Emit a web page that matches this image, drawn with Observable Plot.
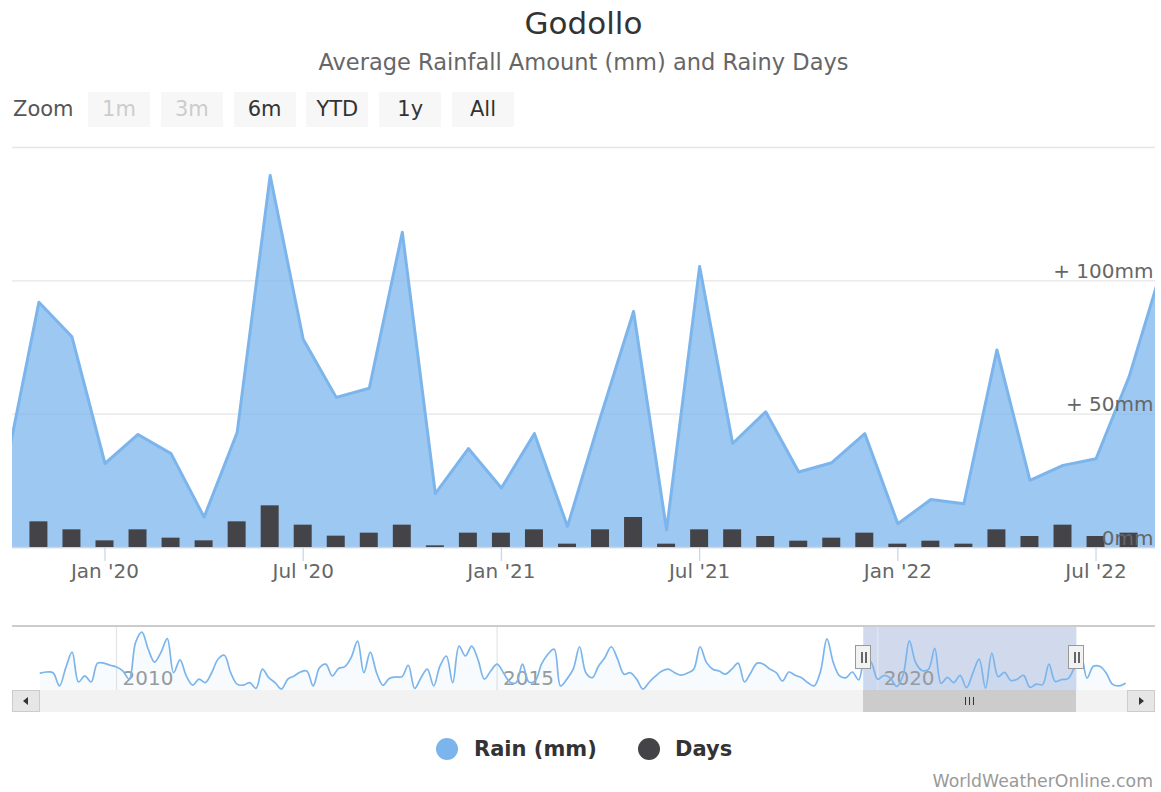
<!DOCTYPE html>
<html><head><meta charset="utf-8">
<script src="https://cdn.jsdelivr.net/npm/d3@7"></script>
<script src="https://cdn.jsdelivr.net/npm/@observablehq/plot@0.6"></script>
<style>
body{margin:0;background:#fff;font-family:"DejaVu Sans",sans-serif;}
#wrap{position:relative;width:1161px;height:792px;overflow:hidden;background:#fff;}
.abs{position:absolute;}
.btn{position:absolute;top:92px;height:35px;width:62px;background:#f7f7f7;font-size:21px;line-height:35px;text-align:center;color:#333;}
.btn.off{color:#cccccc;}
.ov{position:absolute;left:0;}
</style></head><body><div id="wrap"></div>
<script>
// ---------- data ----------
const seriesStartYear = 2009;           // first month of the series: Jan 2009
const monthNames = ["Jan","Feb","Mar","Apr","May","Jun","Jul","Aug","Sep","Oct","Nov","Dec"];
const rainMm = [
  49, 52, 50, 13, 64, 108, 24, 41, 24, 77, 77, 71,          // 2009
  66, 55, 32, 135, 164, 116, 80, 107, 146, 50, 86, 41,      // 2010
  15, 32, 22, 50, 88, 99, 50, 18, 15, 22, 6, 60,            // 2011
  36, 22, 4, 32, 41, 52, 55, 13, 64, 74, 41, 62,            // 2012
  67, 93, 139, 50, 108, 50, 15, 34, 38, 39, 71, 6,          // 2013
  36, 60, 13, 69, 97, 22, 125, 97, 125, 86, 32, 55,         // 2014
  74, 50, 24, 22, 74, 24, 27, 74, 102, 116, 13, 32,         // 2015
  60, 123, 50, 36, 69, 93, 123, 88, 46, 50, 32, 4,          // 2016
  24, 41, 55, 60, 50, 43, 49, 60, 123, 79, 60, 55,          // 2017
  46, 60, 77, 24, 50, 77, 74, 60, 50, 27, 52, 43,           // 2018
  36, 22, 13, 55, 145, 79, 41, 36, 52, 30, 92, 79,          // 2019
  31.5, 42.4, 35.2, 11.4, 43.1, 139.5, 78.1, 56.3, 59.7, 118.2, 20.2, 37.1, // 2020
  22.3, 42.7, 7.9, 49, 88.5, 6.6, 105.4, 39, 50.9, 28.3, 31.8, 42.7,        // 2021
  8.9, 18, 16.4, 74.1, 25.2, 30.8, 33.3, 64, 105, 35, 68, 68,              // 2022
  50, 18, 13, 20                                                            // 2023
];
const daysStartMonth = "2019-11";
const rainyDays = [15.4, 10.6, 4, 10.6, 5.6, 4, 15.4, 25, 13.4, 6.8, 8.6, 13.4,
  1, 8.6, 8.6, 10.6, 2, 10.6, 18, 2, 10.6, 10.6, 6.6, 3.8, 5.6, 8.6,
  2, 3.8, 2, 10.6, 6.6, 13.4, 6.6, 8.6];
const xTickMonths = ["2020-01","2020-07","2021-01","2021-07","2022-01","2022-07"];
const yTickValues = [0, 50, 100];
const yTickLabels = ["0mm", "+ 50mm", "+ 100mm"];
const yGridValues = [0, 50, 100, 150];
const navYears = [2010, 2015, 2020];
const zoomButtons = ["1m","3m","6m","YTD","1y","All"];
const zoomDisabled = ["1m","3m"];
const legendNames = ["Rain (mm)", "Days"];
const legendColors = ["#7cb5ec", "#434348"];
const titleText = "Godollo";
const subtitleText = "Average Rainfall Amount (mm) and Rainy Days";
const creditText = "WorldWeatherOnline.com";

// ---------- helpers ----------
function monthIndex(s){ const [y,m] = s.split("-").map(Number); return (y - seriesStartYear)*12 + (m-1); }
const fmtMonth = m => monthNames[m % 12] + " '" + String(seriesStartYear + Math.floor(m/12)).slice(2);
const rainData = rainMm.map((v,i) => ({m:i, v}));
const d0 = monthIndex(daysStartMonth);
const daysData = rainyDays.map((v,i) => ({m:d0+i, v}));
const xTicks = xTickMonths.map(monthIndex);

// ---------- layout ----------
const W = 1161;
const mainView = [129.2, 163.8];     // visible range of the main chart (month index)
const navWindow = [129.8, 163.4];    // selected window drawn in the navigator
const navDomain = [-4.4, 175.8];
const barHalf = 0.272;
const wrap = document.getElementById("wrap");
function add(html, css){ const d = document.createElement("div"); d.className="abs"; d.style.cssText = css; d.innerHTML = html; wrap.appendChild(d); return d; }

add(titleText, "left:3px;width:1161px;top:4px;text-align:center;font-size:31px;line-height:38px;color:#333;");
add(subtitleText, "left:3px;width:1161px;top:48px;text-align:center;font-size:22.5px;line-height:28px;color:#666;");
add("Zoom", "left:13px;top:92px;font-size:21px;line-height:35px;color:#555;");
zoomButtons.forEach((b,i) => {
  const d = document.createElement("div");
  d.className = "btn" + (zoomDisabled.includes(b) ? " off" : "");
  d.style.left = (88 + i*72.8) + "px";
  d.textContent = b; wrap.appendChild(d);
});

const baseStyle = {background:"transparent", fontFamily:"DejaVu Sans", overflow:"visible"};
const common = {width: W, height: 460, marginLeft: 12, marginRight: 6, marginTop: 10, marginBottom: 50,
  style: baseStyle};
const mainVisible = rainData.filter(d => d.m >= mainView[0]-1 && d.m <= mainView[1]+1);

const plotA = Plot.plot({...common,
  x: {type: "linear", domain: mainView, axis: null}, y: {type: "linear", domain: [0,150], axis: null},
  marks: [
    Plot.ruleY(yGridValues, {stroke:"#e6e6e6", strokeWidth:1.3}),
    Plot.areaY(mainVisible, {x:"m", y:"v", fill:"#7cb5ec", fillOpacity:0.75, clip:true}),
    Plot.lineY(mainVisible, {x:"m", y:"v", stroke:"#7cb5ec", strokeWidth:3, strokeLinejoin:"round", clip:true}),
    Plot.ruleY([0], {stroke:"#ccd6eb", strokeWidth:1.3}),
    Plot.ruleX(xTicks, {x: d=>d, y1: 0, y2: 0, insetBottom: -14, stroke:"#ccd6eb", strokeWidth:1.3}),
    Plot.text(xTicks, {x: d=>d, text: fmtMonth, frameAnchor:"bottom", lineAnchor:"top", dy: 16, fill:"#666", fontSize:20})
  ]});
const plotB = Plot.plot({...common,
  x: {type: "linear", domain: mainView, axis: null}, y: {type: "linear", domain: [0,240], axis: null},
  marks: [
    Plot.rectY(daysData, {x1: d => d.m - barHalf, x2: d => d.m + barHalf, y: "v", fill:"#434348", clip:true})
  ]});
const plotC = Plot.plot({...common,
  x: {type: "linear", domain: mainView, axis: null}, y: {type: "linear", domain: [0,150], axis: null},
  marks: [
    Plot.text(yTickValues, {y: d=>d, text: (d,i) => yTickLabels[i], frameAnchor:"right", textAnchor:"end", lineAnchor:"bottom", dx:-2, dy:-3, fill:"#666", fontSize:20})
  ]});
[plotA, plotB, plotC].forEach(p => { p.classList.add("ov"); p.style.top = "137px"; wrap.appendChild(p); });

// navigator
const navTop = 626;
const plotD = Plot.plot({width: W, height: 64, marginLeft: 12, marginRight: 6, marginTop: 0, marginBottom: 0,
  style: baseStyle,
  x: {type: "linear", domain: navDomain, axis: null}, y: {type: "linear", domain: [0,180], axis: null},
  marks: [
    Plot.rect([navWindow], {x1: d=>d[0], x2: d=>d[1], fill:"rgba(102,133,194,0.3)"}),
    Plot.ruleX(navYears, {x: y => monthIndex(y + "-01"), stroke:"#e6e6e6", strokeWidth:1.3}),
    Plot.text(navYears, {x: y => monthIndex(y + "-01"), text: d => String(d), frameAnchor:"bottom", textAnchor:"start", lineAnchor:"bottom", dx:6, dy:-6, fill:"#999", fontSize:20}),
    Plot.areaY(rainData, {x:"m", y:"v", fill:"#7cb5ec", fillOpacity:0.06, curve:"catmull-rom", clip:true}),
    Plot.lineY(rainData, {x:"m", y:"v", stroke:"#7cb5ec", strokeWidth:1.7, curve:"catmull-rom", clip:true})
  ]});
plotD.classList.add("ov"); plotD.style.top = navTop + "px"; wrap.appendChild(plotD);
add("", "left:12px;width:1143px;top:625px;height:2px;background:#cccccc;");

const sx = plotD.scale("x");
const hx1 = sx.apply(navWindow[0]), hx2 = sx.apply(navWindow[1]);

// scrollbar
add("", "left:12px;width:1143px;top:690px;height:22px;background:#f2f2f2;");
add("", `left:${hx1}px;width:${hx2-hx1}px;top:690px;height:22px;background:#cccccc;`);
const rc = (hx1+hx2)/2;
[-4,0,4].forEach(o => add("", `left:${rc+o-0.7}px;top:697px;width:1.4px;height:8px;background:#333;`));
add('<div style="position:absolute;left:10px;top:6px;width:0;height:0;border-top:4px solid transparent;border-bottom:4px solid transparent;border-right:5px solid #333;"></div>',
    "left:12px;top:690px;width:28px;height:22px;background:#e6e6e6;border:1px solid #ccc;box-sizing:border-box;");
add('<div style="position:absolute;left:11px;top:6px;width:0;height:0;border-top:4px solid transparent;border-bottom:4px solid transparent;border-left:5px solid #333;"></div>',
    "left:1127px;top:690px;width:28px;height:22px;background:#e6e6e6;border:1px solid #ccc;box-sizing:border-box;");

// handles
[hx1, hx2].forEach(h => {
  add('<div style="position:absolute;left:5px;top:6px;width:1.3px;height:11px;background:#666"></div><div style="position:absolute;left:9px;top:6px;width:1.3px;height:11px;background:#666"></div>',
      `left:${h-8}px;top:645px;width:16px;height:24px;background:#f2f2f2;border:1.3px solid #999;box-sizing:border-box;`);
});

// legend
const legendX = [[436,474],[638,675]];
legendNames.forEach((n,i) => {
  add("", `left:${legendX[i][0]}px;top:738px;width:22px;height:22px;border-radius:50%;background:${legendColors[i]};`);
  add(n, `left:${legendX[i][1]}px;top:735px;font-size:21px;line-height:28px;font-weight:bold;color:#333;white-space:nowrap;`);
});
add(creditText, "right:8px;top:771px;font-size:17.3px;line-height:20px;color:#999;white-space:nowrap;");
</script></body></html>
